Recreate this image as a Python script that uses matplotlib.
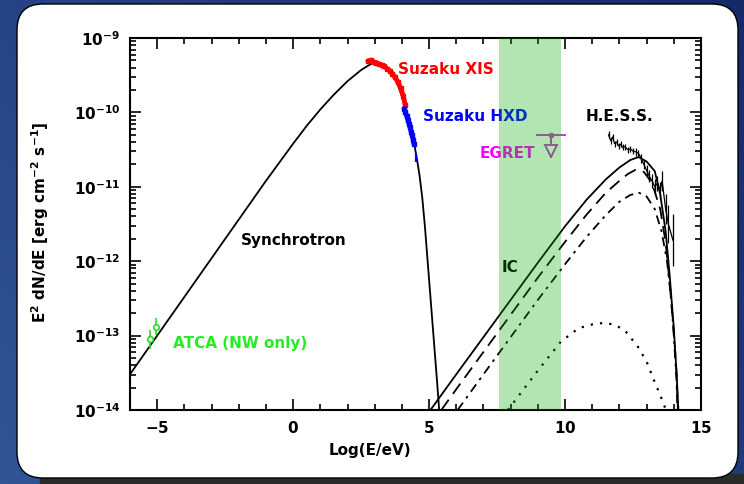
import numpy as np
import matplotlib
matplotlib.use("Agg")
import matplotlib.pyplot as plt
from matplotlib.patches import FancyBboxPatch, Rectangle

# curves: x = log10(E/eV), y = log10(E^2 dN/dE)
sync_x = [-6.0, -5.0, -4.0, -3.0, -2.0, -1.0, 0.0, 0.5, 1.0, 1.5, 2.0, 2.5, 2.9,
          3.3, 3.6, 3.8, 4.0, 4.2, 4.35, 4.45, 4.55, 4.65, 4.75, 4.85, 5.0, 5.15, 5.3, 5.37]
sync_y = [-13.52, -13.0, -12.48, -11.96, -11.44, -10.92, -10.42, -10.18, -9.96, -9.76,
          -9.58, -9.43, -9.34, -9.36, -9.46, -9.58, -9.78, -10.04, -10.26, -10.42,
          -10.62, -10.85, -11.15, -11.55, -12.25, -12.95, -13.65, -14.0]

ic_x = [5.05, 6.0, 7.0, 8.0, 9.0, 10.0, 10.8, 11.5, 12.0, 12.4, 12.7, 13.0, 13.3,
        13.5, 13.7, 13.85, 14.0, 14.1, 14.17]
ic_y = [-14.0, -13.52, -13.02, -12.52, -12.02, -11.53, -11.17, -10.90, -10.74, -10.64,
        -10.60, -10.66, -10.79, -11.1, -11.6, -12.2, -12.9, -13.5, -14.0]

ic2_x = [5.45, 6.0, 7.0, 8.0, 9.0, 10.0, 10.8, 11.5, 12.0, 12.3, 12.6, 12.9, 13.2,
         13.5, 13.7, 13.85, 14.0, 14.1, 14.15]
ic2_y = [-14.0, -13.72, -13.22, -12.72, -12.22, -11.74, -11.37, -11.08, -10.92, -10.83,
         -10.77, -10.80, -10.95, -11.3, -11.75, -12.3, -12.95, -13.5, -14.0]

ic3_x = [6.05, 7.0, 8.0, 9.0, 10.0, 10.8, 11.5, 12.0, 12.4, 12.72, 13.0, 13.3,
         13.55, 13.75, 13.9, 14.0, 14.1, 14.13]
ic3_y = [-14.0, -13.52, -13.02, -12.52, -12.04, -11.67, -11.38, -11.2, -11.11, -11.08,
         -11.13, -11.3, -11.6, -12.0, -12.5, -13.0, -13.6, -14.0]

ic4_x = [7.9, 8.5, 9.0, 9.85, 10.5, 11.0, 11.4, 11.8, 12.2, 12.68, 13.0, 13.27, 13.5, 13.71]
ic4_y = [-14.0, -13.71, -13.47, -13.08, -12.9, -12.85, -12.83, -12.85, -12.93, -13.15,
         -13.35, -13.6, -13.8, -14.0]

# data points
xis_x = [2.75, 2.85, 2.95, 3.05, 3.15, 3.25, 3.35, 3.45, 3.55, 3.65, 3.75, 3.85, 3.95, 4.05, 4.12]
xis_y = [-9.31, -9.30, -9.32, -9.33, -9.35, -9.36, -9.38, -9.41, -9.44, -9.48, -9.53,
         -9.59, -9.67, -9.78, -9.90]
hxd_x = [4.08, 4.13, 4.18, 4.22, 4.26, 4.30, 4.34, 4.38, 4.42, 4.45]
hxd_y = [-9.95, -10.0, -10.05, -10.1, -10.15, -10.2, -10.26, -10.31, -10.37, -10.43]
hxd_lim_x = [4.53]
hxd_lim_y = [-10.6]
atca_x = [-5.26, -5.04]
atca_y = [-13.05, -12.88]
atca_err = [0.13, 0.11]
hess_x = [11.60, 11.68, 11.75, 11.82, 11.9, 11.97, 12.05, 12.12, 12.2, 12.3, 12.4, 12.5,
          12.6, 12.7, 12.8, 12.9, 13.0, 13.1, 13.2, 13.3, 13.4, 13.5, 13.57, 13.7, 13.8, 13.97]
hess_y = [-10.30, -10.38, -10.33, -10.42, -10.40, -10.45, -10.43, -10.47, -10.46, -10.50,
          -10.49, -10.52, -10.53, -10.55, -10.62, -10.70, -10.78, -10.86, -10.92, -11.0,
          -10.95, -11.05, -10.92, -11.3, -11.5, -11.72]
hess_err = [0.05, 0.04, 0.04, 0.04, 0.04, 0.04, 0.04, 0.04, 0.04, 0.04, 0.04, 0.04,
            0.05, 0.05, 0.06, 0.06, 0.07, 0.08, 0.09, 0.1, 0.1, 0.12, 0.13, 0.2, 0.25, 0.35]
egret_x = 9.49
egret_y = -10.30
egret_xerr = 0.56
band_lo, band_hi = 7.58, 9.85

W, H = 744, 484
fig = plt.figure(figsize=(W / 100, H / 100), dpi=100)

# background frame (blue slide + white rounded panel)
bg = fig.add_axes([0, 0, 1, 1])
gx, gy = np.meshgrid(np.linspace(0, 1, 200), np.linspace(0, 1, 130))
t = (gx * 0.6 + (1 - gy) * 0.4)
c0 = np.array([48, 86, 152]) / 255
c1 = np.array([22, 42, 104]) / 255
img = c0[None, None, :] * (1 - t[..., None]) + c1[None, None, :] * t[..., None]
bg.imshow(img, extent=[0, W, H, 0], aspect="auto")
bg.add_patch(Rectangle((40, 474), W - 40, 12, color="#2a2a2a", zorder=2))
bg.add_patch(FancyBboxPatch((17, 4), 721, 474, boxstyle="round,pad=0,rounding_size=26",
                            facecolor="white", edgecolor="black", lw=1.0, zorder=3))
bg.set_xlim(0, W)
bg.set_ylim(H, 0)
bg.axis("off")

ax = fig.add_axes([130 / W, 1 - 410 / H, 571 / W, 372 / H])
ax.set_yscale("log")
ax.set_xlim(-6, 15)
ax.set_ylim(1e-14, 1e-9)

p = lambda v: 10 ** np.asarray(v)

ax.plot(sync_x, p(sync_y), color="black", lw=1.3)
ax.plot(ic_x, p(ic_y), color="black", lw=1.3)
ax.plot(ic2_x, p(ic2_y), color="black", lw=1.3, dashes=(7, 4))
ax.plot(ic3_x, p(ic3_y), color="black", lw=1.3, dashes=(5, 3, 1.5, 3))
ax.plot(ic4_x, p(ic4_y), color="black", lw=1.6, dashes=(1, 3.2))

ax.plot(xis_x, p(xis_y), color="red", lw=3.5, solid_capstyle="round")
ax.plot(xis_x, p(xis_y), "s", color="red", ms=3)
ax.plot(hxd_x, p(hxd_y), color="blue", lw=3.5, solid_capstyle="round")
ax.plot(hxd_x, p(hxd_y), "s", color="blue", ms=3)
ax.errorbar(hxd_lim_x, p(hxd_lim_y), yerr=[p(hxd_lim_y) - p(np.array(hxd_lim_y) - 0.06),
                                          p(np.array(hxd_lim_y) + 0.06) - p(hxd_lim_y)],
            fmt="none", ecolor="blue", lw=1.6)

ay = np.array(atca_y)
ae = np.array(atca_err)
ax.errorbar(atca_x, p(ay), yerr=[p(ay) - p(ay - ae), p(ay + ae) - p(ay)],
            fmt="o", mfc="white", mec="#22dd22", ecolor="#22dd22", ms=4, mew=1.2, lw=1.2)

hy = np.array(hess_y)
he = np.array(hess_err)
ax.plot(hess_x, p(hy), color="black", lw=0.9)
ax.errorbar(hess_x, p(hy), yerr=[p(hy) - p(hy - he), p(hy + he) - p(hy)],
            fmt="none", ecolor="black", lw=0.9)

# EGRET upper limit
ec = "#c040c0"
ax.errorbar([egret_x], [p(egret_y)], xerr=[egret_xerr], fmt="o", color=ec, ms=3, lw=1.4)
ax.plot([egret_x, egret_x], [p(egret_y), p(egret_y - 0.3)], color=ec, lw=1.4)
ax.plot([egret_x], [p(egret_y - 0.22)], marker="v", ms=8, mfc="white", mec=ec, mew=1.4)

tkw = dict(fontsize=11, fontweight="bold", va="center", ha="left")
ax.text(3.86, p(-9.43), "Suzaku XIS", color="red", **tkw)
ax.text(4.78, p(-10.06), "Suzaku HXD", color="blue", **tkw)
ax.text(10.77, p(-10.06), "H.E.S.S.", color="black", **tkw)
ax.text(6.84, p(-10.55), "EGRET", color="#ff00ff", **tkw)
ax.text(7.65, p(-12.09), "IC", color="black", **tkw)
ax.text(-1.91, p(-11.72), "Synchrotron", color="black", **tkw)
ax.text(-4.41, p(-13.1), "ATCA (NW only)", color="#22ee22", **tkw)

# green band overlays everything (text under it gets tinted)
ax.axvspan(band_lo, band_hi, color=(0.02, 0.67, 0.02), alpha=0.3, lw=0, zorder=10)

ax.set_xticks([-5, 0, 5, 10, 15])
ax.set_xticks(np.arange(-6, 16, 1), minor=True)
ax.set_xticklabels(["$\\mathbf{-5}$", "$\\mathbf{0}$", "$\\mathbf{5}$", "$\\mathbf{10}$", "$\\mathbf{15}$"])
ax.set_yticks([1e-14, 1e-13, 1e-12, 1e-11, 1e-10, 1e-9])
ax.set_yticklabels(["$\\mathbf{10^{-%d}}$" % k for k in [14, 13, 12, 11, 10, 9]])
ax.tick_params(which="both", direction="in", top=True, right=True, labelsize=11, width=1.2, pad=7)
ax.tick_params(which="major", length=8)
ax.tick_params(which="minor", length=4)
for s in ax.spines.values():
    s.set_linewidth(1.5)

fig.text(370 / W, 1 - 450 / H, "Log(E/eV)", ha="center", va="center", fontsize=11, fontweight="bold")
fig.text(40 / W, 1 - 222 / H, "E$^\\mathbf{2}$ dN/dE [erg cm$^\\mathbf{-2}$ s$^\\mathbf{-1}$]",
         ha="center", va="center", rotation=90, fontsize=11, fontweight="bold")

fig.savefig("out.png", dpi=100)
